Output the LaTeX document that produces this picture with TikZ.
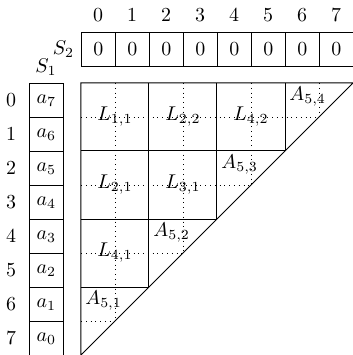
\documentclass[tikz,border=0pt]{standalone}
\begin{document}
\begin{tikzpicture}[x=0.6cm,y=0.6cm,
  cellbox/.style={draw,minimum width=0.6cm,minimum height=0.6cm,inner sep=0pt,anchor=north west},
  blk/.style={draw,line width=0.5pt},
  dotl/.style={dotted},
  alab/.style={anchor=north west,inner sep=2pt}]
\useasboundingbox (0,0) rectangle (10.353,-10.441);
% top indices and S2 row
\foreach \j in {0,...,7}{
  \node (t\j) at (2.382+\j+0.5,-0.441) {$\j$};
  \node[cellbox] (s2\j) at (2.382+\j,-0.941) {$0$};
}
\node[anchor=east] (S2) at (2.382,-1.441) {$S_2$};
% S1 column
\node[anchor=south] (S1) at (1.353,-2.441) {$S_1$};
\foreach \i/\a in {0/7,1/6,2/5,3/4,4/3,5/2,6/1,7/0}{
  \node (l\i) at (0.324,-2.441-\i-0.5) {$\i$};
  \node[cellbox] (s1\i) at (0.853,-2.441-\i) {$a_{\a}$};
}
\begin{scope}[shift={(2.382,-2.441)}]
  % dotted grid
  \foreach \k in {1,3,5,7}{
    \pgfmathsetmacro{\e}{8-\k}
    \draw[dotl] (\k,0) -- (\k,-\e);
    \draw[dotl] (0,-\k) -- (\e,-\k);
  }
  % outline
  \draw[blk] (0,0) -- (8,0) -- (0,-8) -- cycle;
  \draw[blk] (0,-2) -- (6,-2);
  \draw[blk] (0,-4) -- (4,-4);
  \draw[blk] (0,-6) -- (2,-6);
  \draw[blk] (2,0) -- (2,-6);
  \draw[blk] (4,0) -- (4,-4);
  \draw[blk] (6,0) -- (6,-2);
  % labels
  \node (L11) at (1,-1) {$L_{1,1}$};
  \node (L22) at (3,-1) {$L_{2,2}$};
  \node (L42) at (5,-1) {$L_{4,2}$};
  \node (L21) at (1,-3) {$L_{2,1}$};
  \node (L31) at (3,-3) {$L_{3,1}$};
  \node (L41) at (1,-5) {$L_{4,1}$};
  \node[alab] (A54) at (6,0) {$A_{5,4}$};
  \node[alab] (A53) at (4,-2) {$A_{5,3}$};
  \node[alab] (A52) at (2,-4) {$A_{5,2}$};
  \node[alab] (A51) at (0,-6) {$A_{5,1}$};
\end{scope}
\end{tikzpicture}
\end{document}
